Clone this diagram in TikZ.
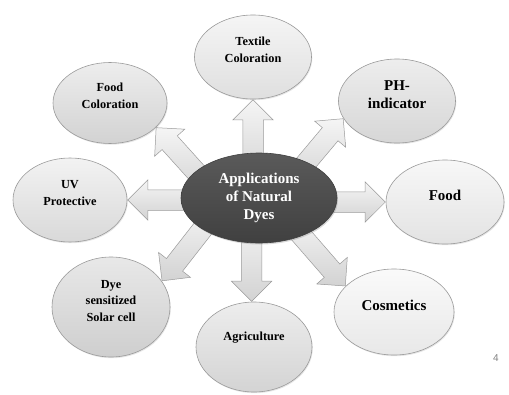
\documentclass[tikz,border=0pt]{standalone}
\usepackage{fontspec}
\setmainfont{Liberation Serif}
\newfontfamily\numfont{Liberation Sans}
\usetikzlibrary{shapes.geometric,shapes.arrows,shadows,backgrounds}

\definecolor{hubtop}{HTML}{5A5A5A}
\definecolor{hubbot}{HTML}{404040}
\definecolor{rimgray}{HTML}{9A9A9A}

\tikzset{
  hub/.style={ellipse, draw=black!75, line width=0.6pt, inner sep=0pt,
    minimum width=156pt, minimum height=90pt, top color=hubtop, bottom color=hubbot,
    text=white, align=center, font=\bfseries\fontsize{15}{18}\selectfont,
    drop shadow={opacity=0.3, shadow xshift=1pt, shadow yshift=-1.5pt}},
  bubble/.style={ellipse, draw=rimgray, line width=0.6pt, inner sep=0pt,
    drop shadow={opacity=0.2, shadow xshift=0.8pt, shadow yshift=-1.2pt}},
  smalltxt/.style={align=center, font=\bfseries\fontsize{12.3}{16.5}\selectfont},
  bigtxt/.style={align=center, font=\bfseries\fontsize{15}{18}\selectfont},
  spokearrow/.style={single arrow, draw=rimgray, line width=0.5pt,
    inner xsep=0pt, inner ysep=10pt, single arrow head extend=10pt,
    minimum height=85pt, top color=gray!8, bottom color=gray!35}
}

% block arrow whose tip sits on a bubble's rim: #1 bubble, #2 rim angle, #3 heading
\newcommand\spoke[3]{%
  \node[spokearrow, rotate=#3, anchor=tip] (#1-arrow) at (#1.#2) {};%
}

\begin{document}
\begin{tikzpicture}[x=1pt,y=-1pt]
  \useasboundingbox (0,0) rectangle (509,394);

  % centre
  \node[hub] (hub) at (259,198) {Applications\\of Natural\\Dyes};

  % bubbles
  \node[bubble, minimum width=117pt, minimum height=84pt, top color=gray!8, bottom color=gray!25] (textile) at (253,57) {};
  \node[bubble, minimum width=114pt, minimum height=81pt, top color=gray!14, bottom color=gray!35] (foodcol) at (110,103) {};
  \node[bubble, minimum width=114pt, minimum height=84pt, top color=gray!10, bottom color=gray!30] (uv) at (70,200) {};
  \node[bubble, minimum width=117pt, minimum height=84pt, top color=gray!14, bottom color=gray!32] (ph) at (397,101) {};
  \node[bubble, minimum width=118pt, minimum height=84pt, top color=gray!6, bottom color=gray!22] (food) at (445,202) {};
  \node[bubble, minimum width=118pt, minimum height=100pt, top color=gray!18, bottom color=gray!38] (dye) at (111,307) {};
  \node[bubble, minimum width=116pt, minimum height=90pt, top color=gray!14, bottom color=gray!34] (agri) at (254,347) {};
  \node[bubble, minimum width=120pt, minimum height=86pt, top color=gray!4, bottom color=gray!18] (cosm) at (394,312) {};

  % texts
  \node[smalltxt] (textile-t) at ([yshift=7pt]textile.center) {Textile\\Coloration};
  \node[smalltxt] (foodcol-t) at ([yshift=7pt]foodcol.center) {Food\\Coloration};
  \node[smalltxt] (uv-t) at ([yshift=7pt]uv.center) {UV\\Protective};
  \node[bigtxt] (ph-t) at ([yshift=6pt]ph.center) {PH-\\indicator};
  \node[bigtxt] (food-t) at ([yshift=7pt]food.center) {Food};
  \node[smalltxt] (dye-t) at ([yshift=6pt]dye.center) {Dye\\sensitized\\Solar cell};
  \node[smalltxt] (agri-t) at ([yshift=9pt]agri.center) {Agriculture};
  \node[bigtxt] (cosm-t) at ([yshift=7pt]cosm.center) {Cosmetics};

  % arrows, under the hub
  \begin{scope}[on background layer]
    \spoke{textile}{270}{90}
    \spoke{foodcol}{332}{132}
    \spoke{uv}{0}{180}
    \spoke{ph}{198}{50}
    \spoke{food}{180}{0}
    \spoke{dye}{27}{232}
    \spoke{agri}{93}{270}
    \spoke{cosm}{152}{-49}
  \end{scope}

  \node[text=gray, font=\numfont\fontsize{10}{12}\selectfont] (pagenum) at (496,358) {4};
\end{tikzpicture}
\end{document}
